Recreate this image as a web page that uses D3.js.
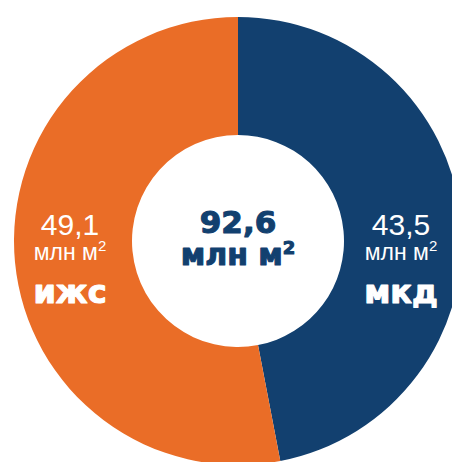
<!DOCTYPE html>
<html>
<head>
<meta charset="utf-8">
<script src="https://cdn.jsdelivr.net/npm/d3@7"></script>
<style>
  html, body { margin: 0; padding: 0; background: #fff; }
  svg { display: block; font-family: "Liberation Sans", Arial, sans-serif; }
  .heavy { font-family: "DejaVu Sans", sans-serif; font-weight: bold; stroke-width: 1.1px; stroke-linejoin: round; }
</style>
</head>
<body>
<div class="chart"></div>
<script>
// data
var categories = ["мкд", "ижс"];
var values = [43.5, 49.1];
var valueLabels = ["43,5", "49,1"];
var colors = ["#12406F", "#EA6D27"];
var totalLabel = "92,6";
var unitLabel = "млн м";

var width = 452, height = 462;
var cx = 238, cy = 241;
var outerR = 224, innerR = 106;

var svg = d3.select(".chart")
    .append("svg")
    .attr("width", width)
    .attr("height", height);

var g = svg.append("g")
    .attr("transform", "translate(" + cx + "," + cy + ")");

var pie = d3.pie().sort(null).value(function(d) { return d; });
var arc = d3.arc().innerRadius(innerR).outerRadius(outerR);

var arcs = pie(values);

g.selectAll("path.slice")
    .data(arcs)
  .enter().append("path")
    .attr("class", "slice")
    .attr("d", arc)
    .attr("fill", function(d, i) { return colors[i]; });

// side labels, put on the horizontal through the centre at mid ring radius
var midR = (innerR + outerR) / 2;
var side = [1, -1]; // мкд right, ижс left

var lbl = g.selectAll("g.lbl")
    .data(categories)
  .enter().append("g")
    .attr("class", "lbl")
    .attr("transform", function(d, i) {
        return "translate(" + (side[i] * midR + (i == 0 ? -2 : -3)) + ",0)";
    });

lbl.append("text")
    .attr("y", -6)
    .attr("text-anchor", "middle")
    .style("fill", "#fff")
    .style("font-size", "30px")
    .text(function(d, i) { return valueLabels[i]; });

var unit = lbl.append("text")
    .attr("y", 19)
    .attr("text-anchor", "middle")
    .style("fill", "#fff")
    .style("font-size", "23px");
unit.append("tspan").text(unitLabel);
unit.append("tspan")
    .attr("dy", -9)
    .style("font-size", "15px")
    .text("2");

lbl.append("text")
    .attr("class", "heavy")
    .attr("y", 62)
    .attr("text-anchor", "middle")
    .style("fill", "#fff")
    .style("stroke", "#fff")
    .style("font-size", "32px")
    .text(function(d) { return d; });

// centre total
g.append("text")
    .attr("class", "heavy")
    .attr("y", -8)
    .attr("text-anchor", "middle")
    .style("fill", "#12406F")
    .style("stroke", "#12406F")
    .style("font-size", "31px")
    .text(totalLabel);

var tot = g.append("text")
    .attr("class", "heavy")
    .attr("y", 24)
    .attr("text-anchor", "middle")
    .style("fill", "#12406F")
    .style("stroke", "#12406F")
    .style("font-size", "30px");
tot.append("tspan").text(unitLabel);
tot.append("tspan")
    .attr("dy", -11)
    .style("font-size", "18px")
    .text("2");
</script>
</body>
</html>
